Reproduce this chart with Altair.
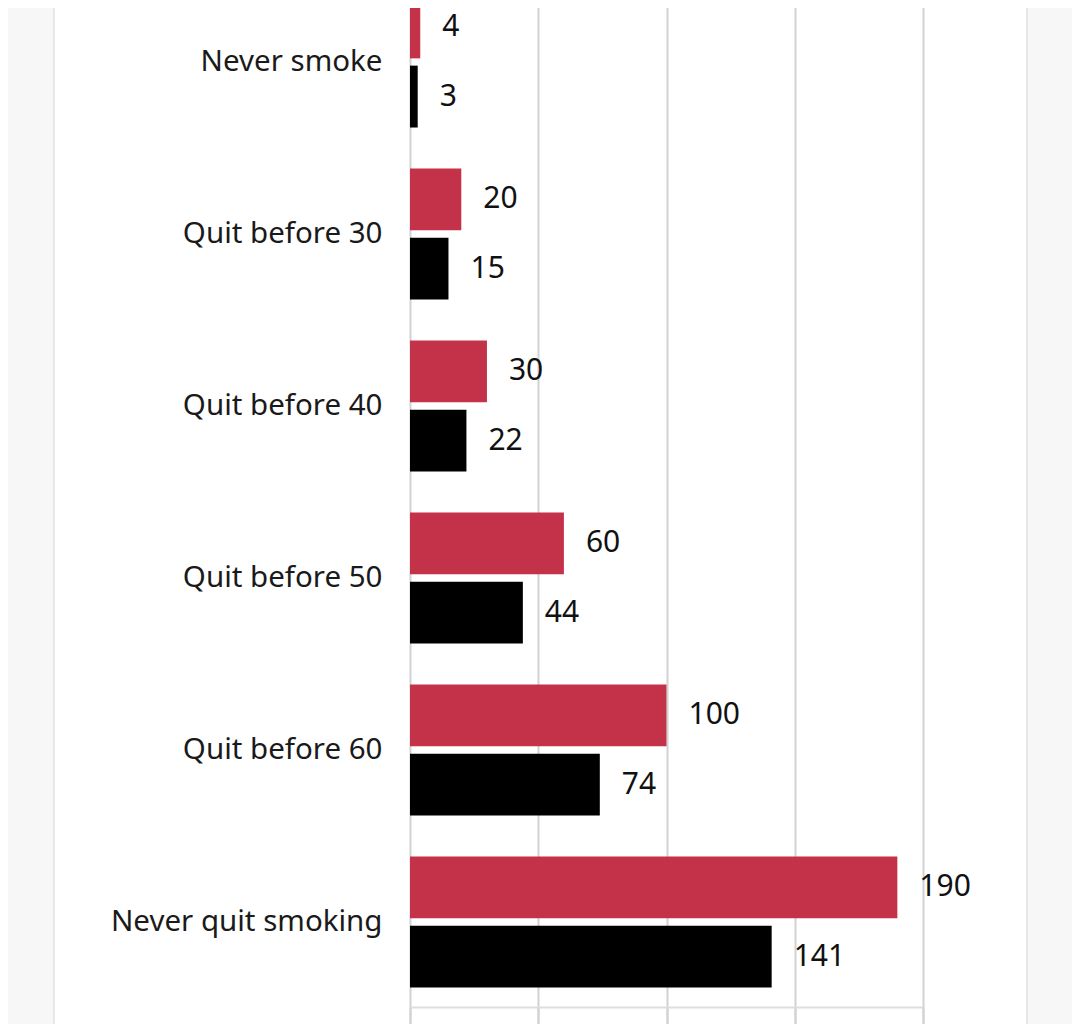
import altair as alt
import pandas as pd

categories = ["Never smoke", "Quit before 30", "Quit before 40",
              "Quit before 50", "Quit before 60", "Never quit smoking"]
series_names = ["Group A", "Group B"]
group_a = [4, 20, 30, 60, 100, 190]
group_b = [3, 15, 22, 44, 74, 141]
x_ticks = [0, 50, 100, 150, 200]
bar_colors = ["#c4324a", "#000000"]

rows = []
for cat, a, b in zip(categories, group_a, group_b):
    rows.append({"category": cat, "series": series_names[0], "value": a})
    rows.append({"category": cat, "series": series_names[1], "value": b})
df = pd.DataFrame(rows)

FONT = "Noto Sans"
PLOT_W = 513
PLOT_H = 999

y_enc = alt.Y(
    "category:N",
    sort=categories,
    title=None,
    scale=alt.Scale(range=[-32, 1000], paddingInner=0.238, paddingOuter=0.119),
    axis=alt.Axis(ticks=False, domain=False, grid=False, labelPadding=28,
                  labelFontSize=29.5, labelFont=FONT, labelColor="#1a1a1a",
                  labelLimit=400),
)
y_off = alt.YOffset("series:N", sort=series_names,
                    scale=alt.Scale(paddingInner=0.105, paddingOuter=0))
x_enc = alt.X(
    "value:Q",
    title=None,
    scale=alt.Scale(domain=[0, 200], nice=False),
    axis=alt.Axis(values=x_ticks, grid=True, gridColor="#d2d2d2", gridWidth=2,
                  domainColor="#dddddd", domainWidth=2, tickColor="#d2d2d2",
                  tickWidth=2, tickSize=22, labels=False),
)

base = alt.Chart(df)

bars = base.mark_bar().encode(
    x=x_enc,
    y=y_enc,
    yOffset=y_off,
    color=alt.Color("series:N", sort=series_names,
                    scale=alt.Scale(domain=series_names, range=bar_colors),
                    legend=None),
)

labels = base.mark_text(align="left", baseline="middle", dx=22,
                        fontSize=30, font=FONT, color="#111111").encode(
    x="value:Q",
    y=alt.Y("category:N", sort=categories),
    yOffset=alt.YOffset("series:N", sort=series_names),
    text="value:Q",
)

strip_df = pd.DataFrame({"k": [0]})
left_strip = alt.Chart(strip_df).mark_rect(
    fill="#f7f7f7", stroke="#e2e2e2", strokeWidth=1.5
).encode(x=alt.value(-430), x2=alt.value(-356),
         y=alt.value(-40), y2=alt.value(1060))
right_strip = alt.Chart(strip_df).mark_rect(
    fill="#f7f7f7", stroke="#e2e2e2", strokeWidth=1.5
).encode(x=alt.value(617), x2=alt.value(720),
         y=alt.value(-40), y2=alt.value(1060))

chart = (
    alt.layer(left_strip, right_strip, bars, labels)
    .properties(
        width=PLOT_W,
        height=PLOT_H,
        autosize=alt.AutoSizeParams(type="none"),
        padding={"left": 402, "top": 0, "right": 149, "bottom": 17},
        background="#ffffff",
    )
    .configure_view(strokeWidth=0)
)

chart.save("out.html", embed_options={"renderer": "svg", "actions": False})
